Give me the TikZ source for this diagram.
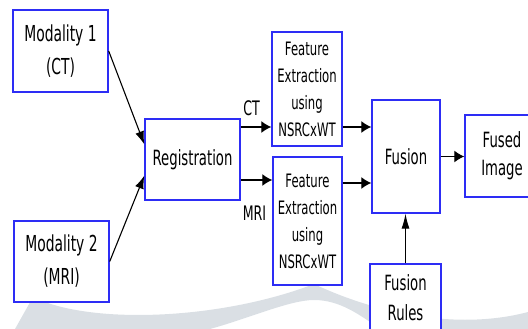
\documentclass[tikz,border=0pt]{standalone}
\usepackage{fontspec}
\setmainfont{DejaVu Sans}[FakeStretch=0.63]
\usetikzlibrary{arrows.meta,calc}
\definecolor{boxblue}{RGB}{45,45,245}
\definecolor{wmark}{RGB}{218,223,228}
\begin{document}
\begin{tikzpicture}[x=1pt,y=-1pt,
  box/.style={draw=boxblue,line width=1.4pt,fill=white,align=center,inner sep=0pt,anchor=center},
  arr/.style={draw=black,line width=1.2pt,-{Latex[length=10pt,width=12pt]}},
  varr/.style={draw=black,line width=1.1pt,-{Latex[length=15pt,width=8pt]}},
  darr/.style={draw=black,line width=1.1pt,-{Latex[length=13pt,width=9pt]}},
  lbl/.style={inner sep=0pt,font=\fontsize{20}{24}\selectfont}]
\useasboundingbox (0,0) rectangle (528,329);
% watermark
\fill[wmark] (15,329) -- (33,297) .. controls (90,325) and (220,320) .. (314,284)
  .. controls (380,315) and (460,330) .. (528,312) -- (528,329) -- (380,329)
  .. controls (360,315) and (340,300) .. (314,300)
  .. controls (290,300) and (250,318) .. (210,329) -- cycle;
% boxes
\node[box,minimum width=95pt,minimum height=82pt,font=\fontsize{22}{33}\selectfont] (m1) at (60.5,51) {Modality 1\\(CT)};
\node[box,minimum width=95pt,minimum height=81pt,font=\fontsize{22}{33}\selectfont] (m2) at (61.5,261.5) {Modality 2\\(MRI)};
\node[box,minimum width=95pt,minimum height=81pt,font=\fontsize{21}{30}\selectfont] (reg) at (192.5,159.5) {Registration};
\node[box,minimum width=70pt,minimum height=114pt,font=\fontsize{18.5}{27}\selectfont] (f1) at (307,89) {Feature\\Extraction\\using\\NSRCxWT};
\node[box,minimum width=69pt,minimum height=128pt,font=\fontsize{18.5}{27}\selectfont] (f2) at (307.5,221) {Feature\\Extraction\\using\\NSRCxWT};
\node[box,minimum width=68pt,minimum height=113pt,font=\fontsize{21}{30}\selectfont] (fus) at (406,156.5) {Fusion};
\node[box,minimum width=74pt,minimum height=82pt,font=\fontsize{21}{28}\selectfont] (img) at (502,156) {Fused\\Image};
\node[box,minimum width=71pt,minimum height=68pt,font=\fontsize{21}{30}\selectfont] (rules) at (405.5,298) {Fusion\\Rules};
% labels
\node[lbl] (ct) at (251.5,108) {CT};
\node[lbl] (mri) at (254.5,213) {MRI};
% arrows
\draw[darr] (m1.east) -- ($(reg.north west)+(0,26)$);
\draw[darr] (m2.east) -- ($(reg.south west)+(0,-25)$);
\coordinate (r1) at ($(reg.east)+(0,-32.5)$);
\draw[arr] (r1) -- (r1 -| f1.west);
\coordinate (r2) at ($(reg.east)+(0,20.5)$);
\draw[arr] (r2) -- (r2 -| f2.west);
\coordinate (a1) at (f1.east |- r1);
\draw[arr] (a1) -- (a1 -| fus.west);
\coordinate (a2) at ($(f2.east)+(0,-38)$);
\draw[arr] (a2) -- (a2 -| fus.west);
\draw[arr] (fus.east) -- (fus.east -| img.west);
\draw[varr] (rules.north) -- (rules.north |- fus.south);
\end{tikzpicture}
\end{document}
